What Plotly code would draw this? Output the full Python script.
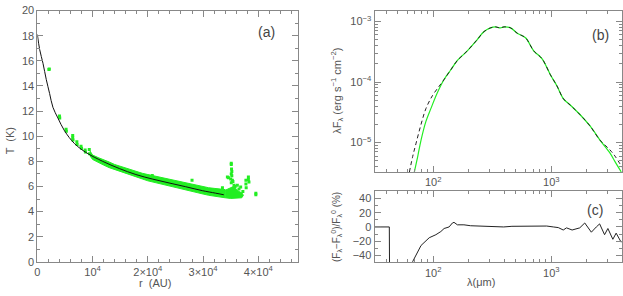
import plotly.graph_objects as go

# ---------------- Panel (a): temperature profile ----------------
r_model = [0, 420, 1020, 1620, 2220, 2820, 3720, 4920, 6730, 8830, 11830, 14830,
           17840, 20840, 23840, 26850, 29850, 32250, 33750]
T_model = [18.1, 16.9, 15.8, 14.5, 13.4, 12.3, 11.45, 10.43, 9.41, 8.7, 8.0, 7.43,
           6.95, 6.59, 6.28, 5.98, 5.67, 5.47, 5.34]

r_band = [9500, 10000, 11000, 12000, 13000, 14000, 15000, 16000, 17000, 18000, 19000,
          20000, 21000, 22000, 23000, 24000, 25000, 26000, 27000, 28000, 29000, 30000,
          31000, 32000, 33000, 34000]
T_band_hi = [8.85, 8.5, 8.3, 8.15, 7.95, 7.75, 7.6, 7.45, 7.3, 7.2, 7.05, 6.95, 6.85, 6.75,
             6.65, 6.55, 6.45, 6.35, 6.25, 6.15, 6.05, 6.0, 5.9, 5.85, 5.8, 5.75]
T_band_lo = [8.45, 8.15, 7.9, 7.7, 7.5, 7.3, 7.15, 7.0, 6.85, 6.75, 6.6, 6.45, 6.35, 6.2,
             6.1, 6.0, 5.9, 5.8, 5.7, 5.6, 5.5, 5.4, 5.3, 5.2, 5.15, 5.1]

r_clump = [34000, 34500, 35000, 35500, 36000, 36500, 37000, 37300, 37000, 36000, 35000, 34000]
T_clump = [5.7, 5.8, 5.9, 6.0, 5.8, 5.6, 5.5, 5.3, 5.1, 5.05, 5.05, 5.1]

r_pts = [2100, 2150, 4000, 4050, 5200, 5250, 6400, 6400, 6450, 7150, 7200, 7900, 8000,
         8650, 8700, 9400, 9450, 20800, 28000,
         35100, 35100, 35150, 35200, 35100, 35200, 34400, 34600, 35000, 35300, 35100,
         35400, 35600, 35800, 37750, 37750, 37800, 38200, 38200, 38300, 39550, 39550,
         36500, 36800, 37200, 33500, 36200]
T_pts = [15.3, 15.35, 11.6, 11.45, 10.55, 10.4, 10.05, 9.85, 9.7, 9.55, 9.35, 9.2, 9.05,
         8.9, 8.75, 8.95, 8.6, 6.87, 6.5,
         7.85, 7.75, 7.4, 7.2, 7.0, 6.85, 6.75, 6.7, 6.6, 6.5, 6.3,
         6.4, 6.1, 6.0, 6.5, 6.2, 5.9, 6.75, 6.55, 6.35, 5.47, 5.35,
         5.8, 5.95, 5.6, 5.9, 6.1]

r_ticks = [0, 10000, 20000, 30000, 40000]
r_ticktext = ["0", "10<sup>4</sup>", "2×10<sup>4</sup>", "3×10<sup>4</sup>", "4×10<sup>4</sup>"]

# ---------------- Panel (b): SED ----------------
lam_obs = [69.2, 74.0, 78.9, 86.9, 95.7, 108.9, 123.6, 140.6, 160.3, 194.5, 236, 268.5,
           305.5, 336.5, 354.8, 370.7, 398, 451.9, 515, 605, 709.6, 835.6, 981.7, 1117,
           1268, 1445, 1754, 2128, 2582, 3133, 3451, 3926]
F_obs = [3.24e-6, 5.94e-6, 1.10e-5, 2.26e-5, 3.67e-5, 6.76e-5, 1.10e-4, 1.58e-4, 2.27e-4,
         3.27e-4, 5.01e-4, 6.76e-4, 7.83e-4, 8.13e-4, 7.94e-4, 7.83e-4, 8.13e-4, 7.83e-4,
         6.38e-4, 5.37e-4, 3.27e-4, 2.42e-4, 1.32e-4, 8.61e-5, 5.28e-5, 4.17e-5, 2.88e-5,
         1.88e-5, 1.10e-5, 6.76e-6, 4.90e-6, 3.24e-6]

lam_mod = [62.8, 67.1, 71.6, 78.9, 86.9, 98.9, 112.2, 123.6, 140.6, 160.3, 194.5, 236,
           268.5, 305.5, 336.5, 354.8, 370.7, 398, 451.9, 515, 605, 709.6, 835.6, 981.7,
           1117, 1268, 1445, 1754, 2128, 2582, 3133, 3451, 3981]
F_mod = [3.24e-6, 5.94e-6, 9.77e-6, 2.0e-5, 3.67e-5, 6.03e-5, 8.5e-5, 1.10e-4, 1.58e-4,
         2.27e-4, 3.27e-4, 5.01e-4, 6.76e-4, 7.83e-4, 8.13e-4, 7.94e-4, 7.83e-4, 8.13e-4,
         7.83e-4, 6.38e-4, 5.37e-4, 3.27e-4, 2.42e-4, 1.32e-4, 8.61e-5, 5.28e-5, 4.17e-5,
         2.88e-5, 1.88e-5, 1.10e-5, 7.59e-6, 6.03e-6, 3.89e-6]

# ---------------- Panel (c): residuals ----------------
lam_res = [30, 42.5, 42.7, None, 65, 67.1, 78.9, 92.5, 105.4, 116, 123.7, 136.3, 145.5,
           150, 160.3, 182, 207.5, 251, 286, 347, 395, 464, 546, 662, 804, 914, 1040, 1146,
           1262, 1346, 1500, 1741, 1919, 2183, 2405, 2565, 2825, 3013, 3319, 3540, 3908]
res = [0, 0, -60, None, -55, -48.6, -26.1, -15.2, -10.9, -6.5, -2.2, 0, 5.6,
       6.5, 3.0, 3.0, 1.7, 1.3, 0.9, 0, 0, 0.9, 0.9, 0.4, 0.9, 1.3, 0, -0.9,
       -4.3, -1.3, -4.3, -1.3, 5.6, -7.4, 0, 4.3, -10.9, -2.2, -17.4, -8.7, -21.7]

lam_ticks = [100, 1000]
lam_ticktext = ["10<sup>2</sup>", "10<sup>3</sup>"]
lam_minor = [40, 50, 60, 70, 80, 90, 200, 300, 400, 500, 600, 700, 800, 900, 2000, 3000, 4000]
F_ticks = [1e-5, 1e-4, 1e-3]
F_ticktext = ["10<sup>−5</sup>", "10<sup>−4</sup>", "10<sup>−3</sup>"]
F_minor = [4e-6, 5e-6, 6e-6, 7e-6, 8e-6, 9e-6,
           2e-5, 3e-5, 4e-5, 5e-5, 6e-5, 7e-5, 8e-5, 9e-5,
           2e-4, 3e-4, 4e-4, 5e-4, 6e-4, 7e-4, 8e-4, 9e-4]

GREEN = "#22ee22"
AX = "#888888"
TXT = "#555555"
FONT = "Liberation Sans"

fig = go.Figure()

# Panel (a)
fig.add_trace(go.Scatter(x=r_band + r_band[::-1], y=T_band_hi + T_band_lo[::-1],
                         fill="toself", fillcolor=GREEN, mode="lines",
                         line=dict(color=GREEN, width=1), xaxis="x", yaxis="y",
                         hoverinfo="skip", showlegend=False))
fig.add_trace(go.Scatter(x=r_clump, y=T_clump, fill="toself", fillcolor=GREEN, mode="lines",
                         line=dict(color=GREEN, width=1), xaxis="x", yaxis="y",
                         showlegend=False))
fig.add_trace(go.Scatter(x=r_pts, y=T_pts, mode="markers",
                         marker=dict(symbol="square", size=3, color=GREEN),
                         xaxis="x", yaxis="y", showlegend=False))
fig.add_trace(go.Scatter(x=r_model, y=T_model, mode="lines",
                         line=dict(color="#111111", width=1, shape="spline"),
                         xaxis="x", yaxis="y", showlegend=False))

# Panel (b)
fig.add_trace(go.Scatter(x=lam_obs, y=F_obs, mode="lines",
                         line=dict(color=GREEN, width=1.2, shape="spline"),
                         xaxis="x2", yaxis="y2", showlegend=False))
fig.add_trace(go.Scatter(x=lam_mod, y=F_mod, mode="lines",
                         line=dict(color="#222222", width=1, dash="4px,3px", shape="spline"),
                         xaxis="x2", yaxis="y2", showlegend=False))

# Panel (c)
fig.add_trace(go.Scatter(x=lam_res, y=res, mode="lines",
                         line=dict(color="#222222", width=1),
                         xaxis="x3", yaxis="y3", showlegend=False, connectgaps=False))

tickfont = dict(family=FONT, size=11, color=TXT)
common = dict(showline=True, linecolor=AX, linewidth=1, mirror="ticks", ticks="inside",
              tickcolor=AX, ticklen=6, showgrid=False, zeroline=False, tickfont=tickfont,
              ticklabeloverflow="allow")

fig.update_layout(
    width=623, height=296, margin=dict(l=0, r=0, t=0, b=0),
    paper_bgcolor="white", plot_bgcolor="white",
    xaxis=dict(domain=[0.0554, 0.4751], range=[0, 47100], anchor="y",
               tickvals=r_ticks, ticktext=r_ticktext,
               minor=dict(ticks="inside", dtick=2000, ticklen=3, tickcolor=AX), **common),
    yaxis=dict(domain=[0.099, 0.984], range=[0, 20], anchor="x", dtick=2,
               minor=dict(ticks="inside", dtick=1, ticklen=3, tickcolor=AX), **common),
    xaxis2=dict(domain=[0.5992, 0.9979], type="log", range=[1.503, 3.596], anchor="y2",
                tickvals=lam_ticks, ticktext=lam_ticktext,
                minor=dict(ticks="inside", tickvals=lam_minor, ticklen=3, tickcolor=AX),
                **common),
    yaxis2=dict(domain=[0.4145, 0.984], type="log", range=[-5.49, -2.82], anchor="x2",
                tickvals=F_ticks, ticktext=F_ticktext,
                minor=dict(ticks="inside", tickvals=F_minor, ticklen=3, tickcolor=AX),
                **common),
    xaxis3=dict(domain=[0.5992, 0.9979], type="log", range=[1.503, 3.596], anchor="y3",
                tickvals=lam_ticks, ticktext=lam_ticktext,
                minor=dict(ticks="inside", tickvals=lam_minor, ticklen=3, tickcolor=AX),
                **common),
    yaxis3=dict(domain=[0.097, 0.347], range=[-50, 50], anchor="x3",
                tickvals=[-40, -20, 0, 20, 40],
                minor=dict(ticks="inside", dtick=10, ticklen=3, tickcolor=AX), **common),
)

lab = dict(family=FONT, size=11, color=TXT)
ann = [
    dict(text="(a)", x=0.881, y=0.915, xref="x domain", yref="y domain",
         font=dict(family=FONT, size=14, color="#444444")),
    dict(text="(b)", x=0.913, y=0.85, xref="x2 domain", yref="y2 domain",
         font=dict(family=FONT, size=14, color="#444444")),
    dict(text="(c)", x=0.893, y=0.734, xref="x3 domain", yref="y3 domain",
         font=dict(family=FONT, size=14, color="#444444")),
    dict(text="T  (K)", x=7 / 623, y=1 - 140 / 296, textangle=-90, font=lab),
    dict(text="r  (AU)", x=153 / 623, y=1 - 289 / 296, font=lab),
    dict(text="λF<sub>λ</sub> (erg s<sup>−1</sup> cm<sup>−2</sup>)", x=336 / 623,
         y=1 - 88 / 296, textangle=-90, font=lab),
    dict(text="(F<sub>λ</sub>−F<sub>λ</sub><sup>0</sup>)/F<sub>λ</sub><sup>0</sup> (%)",
         x=335 / 623, y=1 - 230 / 296, textangle=-90, font=dict(family=FONT, size=10, color=TXT)),
    dict(text="λ(μm)", x=480 / 623, y=1 - 288 / 296, font=lab),
]
for a in ann:
    a.setdefault("xref", "paper")
    a.setdefault("yref", "paper")
    a["showarrow"] = False
    a["xanchor"] = "center"
    a["yanchor"] = "middle"
fig.update_layout(annotations=ann)

fig.write_html("out.html", config={"displayModeBar": False},
               post_script="document.body.style.margin='0';document.body.style.overflow='hidden';")
